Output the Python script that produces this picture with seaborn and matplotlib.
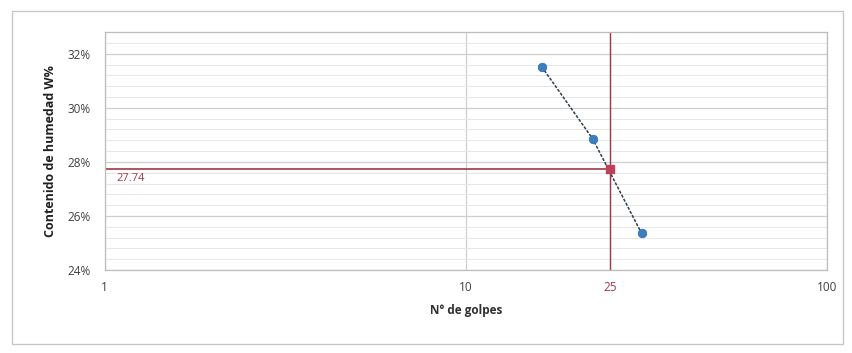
import numpy as np
import pandas as pd
import seaborn as sns
import matplotlib.pyplot as plt
from matplotlib.ticker import FixedLocator, MultipleLocator, PercentFormatter
from matplotlib.patches import Rectangle

# datos
golpes = [16.2, 22.4, 30.6]
humedad = [0.3152, 0.2886, 0.2536]
golpes_lim = 25
humedad_lim = 0.2774
x_ticks = [1, 10, 25, 100]
x_labels = ["1", "10", "25", "100"]

df = pd.DataFrame({"golpes": golpes, "humedad": humedad})

sns.set_style("white")
plt.rcParams["font.family"] = ["Open Sans", "DejaVu Sans"]

fig = plt.figure(figsize=(8.52, 3.53), dpi=100)
fig.patches.append(Rectangle((0.014, 0.025), 0.975, 0.945, transform=fig.transFigure,
                             fill=False, edgecolor="#c8c8c8", linewidth=1))
ax = fig.add_axes([0.123, 0.235, 0.848, 0.674])

ax.set_xscale("log")
ax.set_xlim(1, 100)
ax.set_ylim(0.24, 0.328)

# grid
ax.yaxis.set_major_locator(MultipleLocator(0.02))
ax.yaxis.set_minor_locator(MultipleLocator(0.004))
ax.yaxis.set_major_formatter(PercentFormatter(1.0, decimals=0))
ax.xaxis.set_major_locator(FixedLocator(x_ticks))
ax.xaxis.set_minor_locator(FixedLocator([]))
ax.set_xticklabels(x_labels)
ax.grid(which="major", axis="both", color="#cfcfcf", linewidth=0.9)
ax.grid(which="minor", axis="y", color="#e6e6e6", linewidth=0.7)
ax.set_axisbelow(True)

# lineas de lectura
ax.plot([1, golpes_lim], [humedad_lim, humedad_lim], color="#9e3a48", linewidth=1.2, zorder=2)
ax.axvline(golpes_lim, color="#9e3a48", linewidth=1.0, zorder=2)

sns.lineplot(data=df, x="golpes", y="humedad", ax=ax, color="#2f3f4a",
             linestyle=(0, (2, 1)), linewidth=1.1, zorder=3)
sns.scatterplot(data=df, x="golpes", y="humedad", ax=ax, color="#3a7fc0",
                s=38, edgecolor="#2c6aa8", linewidth=0.5, zorder=4)
ax.scatter([golpes_lim], [humedad_lim], color="#c0405a", s=34, marker="s", zorder=5)

ax.text(1.08, humedad_lim - 0.0035, "27.74", color="#9e3a48", fontsize=8, va="center")

for side in ["left", "bottom", "top", "right"]:
    ax.spines[side].set_color("#bdbdbd")
    ax.spines[side].set_linewidth(0.9)

ax.tick_params(axis="both", length=0, labelsize=8.5, labelcolor="#404040")
ax.tick_params(axis="x", pad=8)
ax.tick_params(axis="y", pad=10)
for lab in ax.get_xticklabels():
    if lab.get_text() == "25":
        lab.set_color("#9e3a48")

ax.set_xlabel("N° de golpes", fontsize=8.5, fontweight="bold", color="#303030", labelpad=7)
ax.set_ylabel("Contenido de humedad W%", fontsize=9, fontweight="bold", color="#202020", labelpad=8)

fig.savefig("out.png", dpi=100)
